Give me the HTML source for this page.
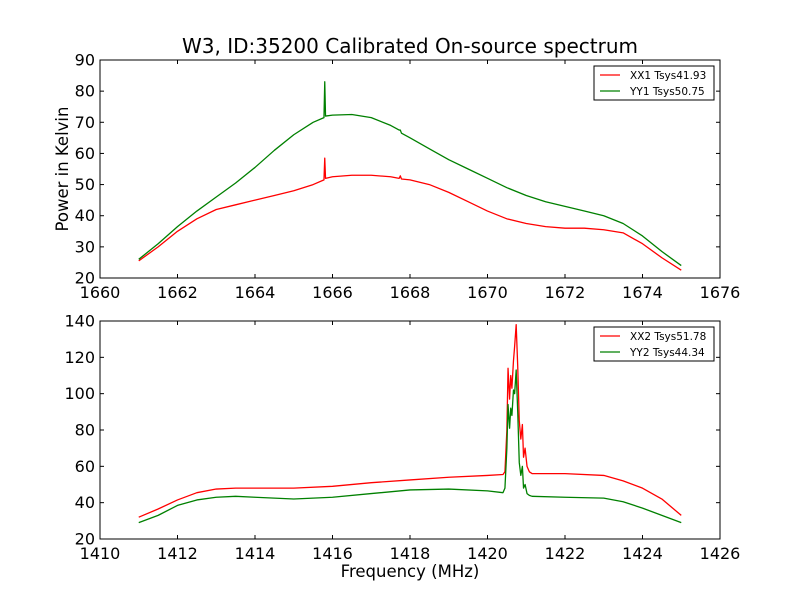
<!DOCTYPE html>
<html><head><meta charset="utf-8"><style>
body{margin:0;background:#fff;}
svg{display:block;font-family:"DejaVu Sans","Liberation Sans",sans-serif;}
</style></head><body>
<svg id="chart" width="800" height="600" viewBox="0 0 800 600">
<text x="410" y="53" font-size="20" text-anchor="middle">W3, ID:35200 Calibrated On-source spectrum</text>
<text x="410" y="577" font-size="16.5" text-anchor="middle">Frequency (MHz)</text>
<text transform="translate(68,169) rotate(-90)" font-size="16.5" text-anchor="middle">Power in Kelvin</text>
</svg>
<script>
const topX1=[1661,1661.5,1662,1662.5,1663,1663.5,1664,1664.5,1665,1665.5,1665.78,1665.8,1665.82,1666,1666.5,1667,1667.5,1667.72,1667.75,1667.78,1668,1668.5,1669,1669.5,1670,1670.5,1671,1671.5,1672,1672.5,1673,1673.5,1674,1674.5,1675];
const xx1=[25.5,30,35,39,42,43.5,45,46.5,48,50,51.5,58.5,52,52.5,53,53,52.5,52,52.8,51.8,51.5,50,47.5,44.5,41.5,39,37.5,36.5,36,36,35.5,34.5,31,26.5,22.5];
const yy1=[26,31,36.5,41.5,46,50.5,55.5,61,66,70,71.5,83,72,72.3,72.5,71.5,69,67.5,67.5,66.5,65,61.5,58,55,52,49,46.5,44.5,43,41.5,40,37.5,33.5,28.5,24];
const botX=[1411,1411.5,1412,1412.5,1413,1413.5,1414,1415,1416,1417,1418,1419,1420,1420.4,1420.45,1420.5,1420.53,1420.57,1420.6,1420.63,1420.67,1420.7,1420.74,1420.78,1420.82,1420.86,1420.9,1420.93,1420.97,1421.02,1421.08,1421.15,1422,1423,1423.5,1424,1424.5,1425];
const xx2=[32,36.5,41.5,45.5,47.5,48,48,48,49,51,52.5,54,55,55.5,57,80,114,97,110,103,118,126,138,115,85,75,83,65,70,60,57,56,56,55,52,48,42,33];
const yy2=[29,33,38.5,41.5,43,43.5,43,42,43,45,47,47.5,46.5,45.5,48,70,94,81,92,88,102,100,113,90,62,55,60,48,50,45,44,43.5,43,42.5,40.5,37,33,29];
const topXTicks=[1660,1662,1664,1666,1668,1670,1672,1674,1676];
const topYTicks=[20,30,40,50,60,70,80,90];
const botXTicks=[1410,1412,1414,1416,1418,1420,1422,1424,1426];
const botYTicks=[20,40,60,80,100,120,140];
const NS="http://www.w3.org/2000/svg";
const svg=document.getElementById('chart');
function el(t,a,p){const e=document.createElementNS(NS,t);for(const k in a)e.setAttribute(k,a[k]);(p||svg).appendChild(e);return e;}
function panel(name,top,xmin,xmax,ymin,ymax,xt,yt,xs,series,legend){
  const L=100,R=720,B=top+218;
  const sx=v=>L+(v-xmin)/(xmax-xmin)*(R-L);
  const sy=v=>B-(v-ymin)/(ymax-ymin)*(B-top);
  const g=el('g',{});
  
  
  series.forEach(s=>{
    const p=el('polyline',{points:xs.map((x,i)=>sx(x)+','+sy(s.v[i])).join(' '),fill:'none',stroke:s.c,'stroke-width':1.3,'stroke-linejoin':'round'},g);
    
    
  });
  const fr=el('rect',{x:L,y:top,width:R-L,height:B-top,fill:'none',stroke:'#000'},g);
  
  
  xt.forEach(v=>{const x=sx(v);
    el('line',{x1:x,x2:x,y1:B,y2:B-4,stroke:'#000'},g);el('line',{x1:x,x2:x,y1:top,y2:top+4,stroke:'#000'},g);
    const t=el('text',{x:x,y:B+20,'font-size':16,'text-anchor':'middle'},g);t.textContent=v;
    
    });
  yt.forEach(v=>{const y=sy(v);
    el('line',{x1:L,x2:L+4,y1:y,y2:y,stroke:'#000'},g);el('line',{x1:R,x2:R-4,y1:y,y2:y,stroke:'#000'},g);
    const t=el('text',{x:L-5,y:y+5.5,'font-size':16,'text-anchor':'end'},g);t.textContent=v;
    
    });
  const lg=el('g',{},g);
  
  
  el('rect',{x:594,y:top+6,width:120,height:34,fill:'#fff',stroke:'#000'},lg);
  series.forEach((s,i)=>{const y=top+15+i*16;
    el('line',{x1:600,x2:620,y1:y,y2:y,stroke:s.c,'stroke-width':1.3},lg);
    const t=el('text',{x:630,y:y+4,'font-size':10.5},lg);t.textContent=legend[i];
    
    });
}
panel('top-panel',60,1660,1676,20,90,topXTicks,topYTicks,topX1,[{n:'xx1-line',c:'#ff0000',v:xx1},{n:'yy1-line',c:'#008000',v:yy1}],['XX1 Tsys41.93','YY1 Tsys50.75']);
panel('bottom-panel',321,1410,1426,20,140,botXTicks,botYTicks,botX,[{n:'xx2-line',c:'#ff0000',v:xx2},{n:'yy2-line',c:'#008000',v:yy2}],['XX2 Tsys51.78','YY2 Tsys44.34']);
</script>
</body></html>
